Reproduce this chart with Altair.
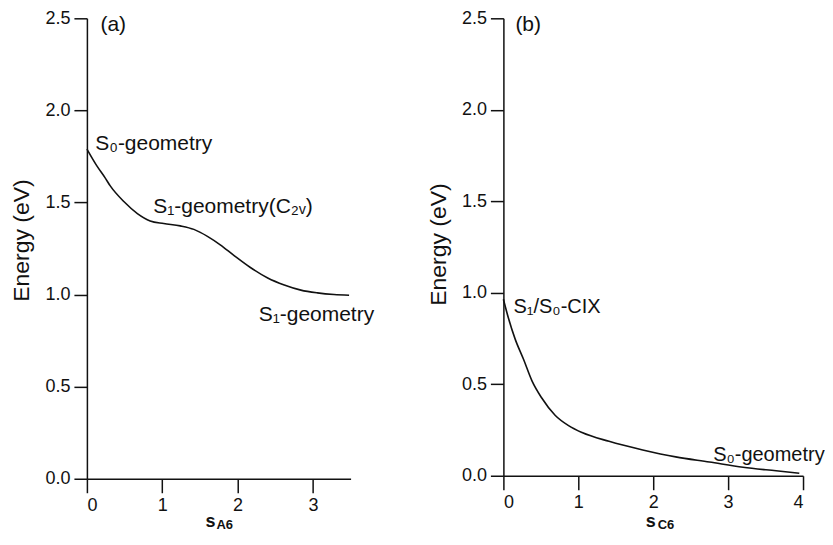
import altair as alt
import pandas as pd

FONT = "Liberation Sans"

# ---------------- data: panel (a) ----------------
a_s = [0.0, 0.13, 0.24, 0.31, 0.49, 0.67, 0.84, 1.02, 1.24, 1.42, 1.60, 1.77, 1.95,
       2.17, 2.40, 2.62, 2.84, 3.06, 3.28, 3.48]
a_e = [1.79, 1.70, 1.635, 1.59, 1.505, 1.44, 1.40, 1.386, 1.373, 1.354, 1.316, 1.27,
       1.213, 1.147, 1.09, 1.052, 1.024, 1.009, 1.0, 0.996]

# ---------------- data: panel (b) ----------------
b_s = [0.0, 0.067, 0.156, 0.27, 0.38, 0.51, 0.69, 0.87, 1.05, 1.41, 1.86, 2.3,
       2.75, 3.2, 3.64, 3.95]
b_e = [0.965, 0.862, 0.748, 0.635, 0.52, 0.426, 0.331, 0.274, 0.236, 0.188, 0.141,
       0.103, 0.075, 0.046, 0.027, 0.014]

# annotations (text, s, e)
a_notes = ["S\u2080-geometry", "S\u2081-geometry(C\u2082\u1d65)", "S\u2081-geometry"]
a_notes_s = [0.11, 0.88, 2.28]
a_notes_e = [1.784, 1.443, 0.857]

b_notes = ["S\u2081/S\u2080-CIX", "S\u2080-geometry"]
b_notes_s = [0.134, 2.80]
b_notes_e = [0.89, 0.082]

panel_tags = ["(a)", "(b)"]
x_main = ["s", "s"]
x_subs = ["A6", "C6"]

y_ticks = [0.0, 0.5, 1.0, 1.5, 2.0, 2.5]


def panel(s, e, notes, notes_s, notes_e, note_size, tag, tag_s, xmax, xticks,
          main_s, sub_s, main_e, sub_e, sub, width, height, title_y):
    x_enc = alt.X("s:Q", scale=alt.Scale(domain=[0, xmax], nice=False, zero=False),
                  axis=alt.Axis(values=xticks, format="d", title=None, tickSize=14,
                                labelPadding=4))
    y_enc = alt.Y("e:Q", scale=alt.Scale(domain=[0, 2.5], nice=False),
                  axis=alt.Axis(values=y_ticks, format=".1f", title="Energy (eV)",
                                titleY=title_y))

    curve = alt.Chart(pd.DataFrame({"s": s, "e": e})).mark_line(
        color="#111111", strokeWidth=1.6, interpolate="monotone"
    ).encode(x=x_enc, y=y_enc)

    notes_df = pd.DataFrame({"s": notes_s, "e": notes_e, "t": notes})
    note_layer = alt.Chart(notes_df).mark_text(
        align="left", baseline="alphabetic", font=FONT, fontSize=note_size,
        color="#111111"
    ).encode(x=x_enc, y=y_enc, text="t:N")

    tag_layer = alt.Chart(pd.DataFrame({"s": [tag_s], "e": [2.43], "t": [tag]})).mark_text(
        align="left", baseline="alphabetic", font=FONT, fontSize=21, color="#111111"
    ).encode(x=x_enc, y=y_enc, text="t:N")

    main_layer = alt.Chart(pd.DataFrame({"s": [main_s], "e": [main_e], "t": ["s"]})).mark_text(
        align="left", baseline="alphabetic", font=FONT, fontSize=18, fontWeight="bold",
        color="#111111"
    ).encode(x=x_enc, y=y_enc, text="t:N")

    sub_layer = alt.Chart(pd.DataFrame({"s": [sub_s], "e": [sub_e], "t": [sub]})).mark_text(
        align="left", baseline="alphabetic", font=FONT, fontSize=13, fontWeight="bold",
        color="#111111"
    ).encode(x=x_enc, y=y_enc, text="t:N")

    return alt.layer(curve, note_layer, tag_layer, main_layer, sub_layer).properties(
        width=width, height=height
    )


pa = panel(a_s, a_e, a_notes, a_notes_s, a_notes_e, 21, panel_tags[0], 0.18, 3.5,
           [0, 1, 2, 3], 1.575, 1.72, -0.260, -0.274, x_subs[0], 264, 461, 222)
pb = panel(b_s, b_e, b_notes, b_notes_s, b_notes_e, 20, panel_tags[1], 0.16, 4.0,
           [0, 1, 2, 3, 4], 1.90, 2.06, -0.278, -0.292, x_subs[1], 300, 458, 226)

chart = alt.hconcat(pa, pb, spacing=52).properties(
    padding={"left": 2, "top": 1, "right": 0, "bottom": 0},
    background="white",
).configure_view(stroke=None).configure_axis(
    grid=False,
    domainColor="#111111", domainWidth=1.5,
    tickColor="#111111", tickWidth=1.5, tickSize=13,
    labelFont=FONT, labelFontSize=18, labelColor="#111111", labelPadding=4,
    titleFont=FONT, titleFontSize=23, titleFontWeight="normal", titleColor="#111111",
    titlePadding=11,
)

chart.save("out.html", embed_options={"renderer": "svg", "actions": False})
